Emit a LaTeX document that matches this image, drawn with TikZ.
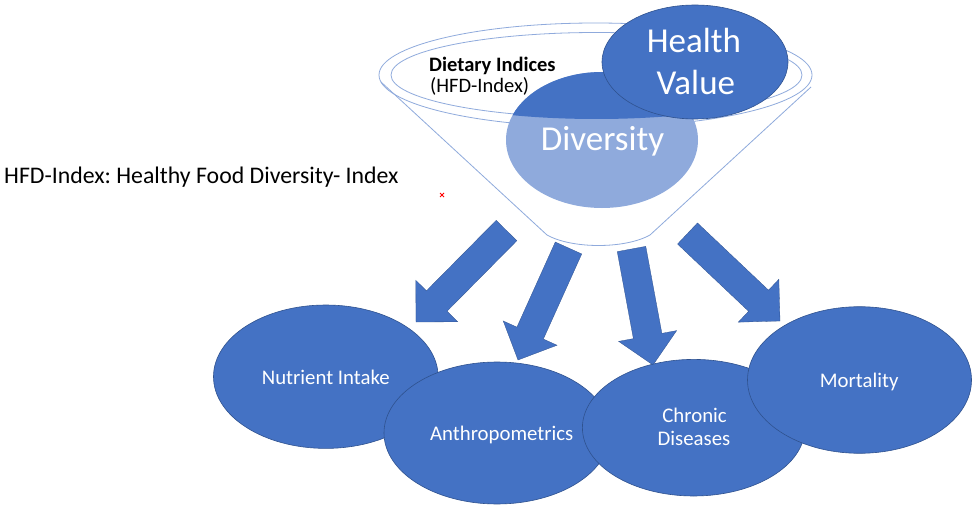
\documentclass[tikz,border=0pt]{standalone}
\usepackage{fontspec}
\setmainfont{Carlito}
\usetikzlibrary{shapes.geometric,calc}
\definecolor{boxblue}{HTML}{4472C4}
\definecolor{edgeblue}{HTML}{2F528F}
\definecolor{paleblue}{HTML}{8FAADC}
\definecolor{funnelline}{HTML}{8FAADC}
\frenchspacing

% block arrow from tail #1 to tip #2
\newcommand\blockarrow[2]{%
  \coordinate (ba-base) at ($(#2)!29.5pt!(#1)$);
  \filldraw[arrowbody]
    ($(#1)!14.5pt!90:(#2)$) -- ($(ba-base)!14.5pt!90:(#2)$) --
    ($(ba-base)!29.5pt!90:(#2)$) -- (#2) --
    ($(ba-base)!29.5pt!-90:(#2)$) -- ($(ba-base)!14.5pt!-90:(#2)$) --
    ($(#1)!14.5pt!-90:(#2)$) -- cycle;}

\begin{document}
\begin{tikzpicture}[x=1pt,y=-1pt,
  bubble/.style={ellipse, draw=edgeblue, line width=0.6pt, fill=boxblue, inner sep=0pt},
  lbl/.style={text=white, font=\fontsize{20.8}{25}\selectfont, inner sep=0pt, anchor=base},
  bigtxt/.style={text=white, font=\fontsize{35}{42}\selectfont, inner sep=0pt, anchor=base},
  darktxt/.style={text=black, font=\fontsize{20.5}{24}\selectfont, inner sep=0pt, anchor=base west},
  funnel/.style={draw=funnelline, line width=0.8pt},
  arrowbody/.style={fill=boxblue, draw=edgeblue, line width=0.3pt, line join=miter},
]
\useasboundingbox (0,0) rectangle (972,508);
\fill[white] (0,0) rectangle (972,508);

% legend
\node[darktxt, font=\fontsize{23.8}{28}\selectfont] (legend) at (4,183.3)
  {HFD-Index: Healthy Food Diversity- Index};
\draw[red, line width=0.9pt] (440,193) -- (444,197) (444,193) -- (440,197);

% funnel outline
\node[ellipse, funnel, minimum width=433pt, minimum height=104pt, inner sep=0pt] (rim) at (595.5,75) {};
\node[ellipse, funnel, minimum width=411pt, minimum height=85pt, inner sep=0pt] (mouth) at (596.5,75) {};
\coordinate (fl) at (381,82);
\coordinate (fr) at (811,87);
\coordinate (bl) at (547,235);
\coordinate (br) at (650,235);
\draw[funnel] (fl) -- (bl) .. controls (572,249) and (625,249) .. (br) -- (fr);

\node[darktxt, font=\bfseries\fontsize{20.5}{24}\selectfont] (dietary) at (429,71.7) {Dietary Indices};
\node[darktxt] (hfd) at (430,93) {(HFD-Index)};

% diversity: pale below the mouth, full blue inside it
\node[ellipse, fill=paleblue, minimum width=192pt, minimum height=136pt, inner sep=0pt] (div) at (602,140) {};
\begin{scope}
  \clip (596.5,75) ellipse [x radius=206, y radius=44];
  \fill[boxblue] (602,140) ellipse [x radius=96, y radius=68];
\end{scope}
\node[bigtxt] (divT) at (602.5,150) {Diversity};

% health value
\node[bubble, minimum width=186pt, minimum height=114pt] (hv) at (695,62) {};
\node[bigtxt] (hvT1) at (694,52.7) {Health};
\node[bigtxt] (hvT2) at (695.8,95) {Value};

% arrows out of the funnel
\coordinate (a1t) at (506.5,230.5); \coordinate (a1h) at (416,322);
\coordinate (a2t) at (568.5,248);   \coordinate (a2h) at (518,360);
\coordinate (a3t) at (631.5,249);   \coordinate (a3h) at (653,365);
\coordinate (a4t) at (687.5,233.5); \coordinate (a4h) at (780,321);
\blockarrow{a1t}{a1h}
\blockarrow{a2t}{a2h}
\blockarrow{a3t}{a3h}
\blockarrow{a4t}{a4h}

% outcomes
\node[bubble, minimum width=224.6pt, minimum height=143.4pt] (nut) at (325.8,376.7) {};
\node[lbl] (nutT) at (325.8,384.3) {Nutrient Intake};
\node[bubble, minimum width=226pt, minimum height=142pt] (anth) at (497,433) {};
\node[lbl] (anthT) at (501.7,440) {Anthropometrics};
\node[bubble, minimum width=222.6pt, minimum height=136.6pt] (chr) at (693.7,427.7) {};
\node[lbl] (chrT1) at (694.6,422.3) {Chronic};
\node[lbl] (chrT2) at (694,445.7) {Diseases};
\node[bubble, minimum width=224pt, minimum height=146.6pt] (mort) at (859.5,380) {};
\node[lbl] (mortT) at (859.2,387.3) {Mortality};
\end{tikzpicture}
\end{document}
